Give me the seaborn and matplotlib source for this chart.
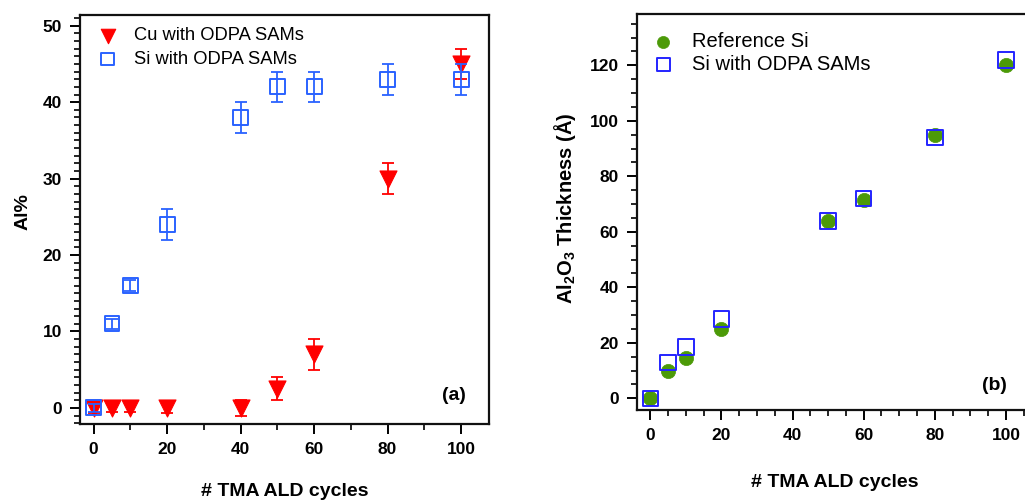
import matplotlib
matplotlib.use("Agg")
import matplotlib.pyplot as plt
import seaborn as sns
import numpy as np
import pandas as pd
from matplotlib.ticker import MultipleLocator

# ---- data (panel a) ----
cycles_a = [0, 5, 10, 20, 40, 50, 60, 80, 100]
cu_al = [0, 0, 0, 0, 0, 2.5, 7, 30, 45]
cu_err = [0.6, 0.5, 0.5, 0.6, 1, 1.5, 2, 2, 2]
si_al = [0, 11, 16, 24, 38, 42, 42, 43, 43]
si_err = [0.5, 0.7, 0.7, 2, 2, 2, 2, 2, 2]

# ---- data (panel b) ----
cycles_b = [0, 5, 10, 20, 50, 60, 80, 100]
ref_thk = [0, 10, 14.5, 25, 64, 71.5, 95, 120]
sam_thk = [0, 13, 18.5, 28.5, 64, 72, 94, 122]

sns.set_style("ticks")
plt.rcParams['font.family'] = ['Liberation Sans', 'DejaVu Sans']
plt.rcParams.update({
    "text.color": "black", "axes.labelcolor": "black",
    "xtick.color": "black", "ytick.color": "black",
    "mathtext.fontset": "custom",
    "mathtext.rm": "Liberation Sans",
    "mathtext.bf": "Liberation Sans:bold",
})

fig = plt.figure(figsize=(10.25, 5.01), dpi=100)
W, H = 1025, 501
ax1 = fig.add_axes([80 / W, 1 - 424 / H, 409 / W, 409 / H])
ax2 = fig.add_axes([637 / W, 1 - 410 / H, 396 / W, 396 / H])

red = "#ff0000"
blue_a = "#2a62ff"
blue_b = "#2424ff"
green = "#4c9a08"

# panel a
dfa = pd.DataFrame({"x": cycles_a, "cu": cu_al, "si": si_al})
ax1.errorbar(cycles_a, cu_al, yerr=cu_err, fmt="none", ecolor=red, elinewidth=1.3,
             capsize=4.5, capthick=1.3, zorder=2)
sns.scatterplot(data=dfa, x="x", y="cu", ax=ax1, marker="v", s=150, color=red,
                edgecolor=red, linewidth=0.8, label="Cu with ODPA SAMs", zorder=3)
ax1.errorbar(cycles_a, si_al, yerr=si_err, fmt="none", ecolor=blue_a, elinewidth=1.3,
             capsize=4.5, capthick=1.3, zorder=4)
sns.scatterplot(data=dfa, x="x", y="si", ax=ax1, marker="s", s=115, facecolor="none",
                edgecolor=blue_a, linewidth=1.4, label="Si with ODPA SAMs", zorder=5)

ax1.set_xlim(-3.7, 107.6)
ax1.set_ylim(-2.1, 51.4)
ax1.xaxis.set_major_locator(MultipleLocator(20))
ax1.xaxis.set_minor_locator(MultipleLocator(10))
ax1.yaxis.set_major_locator(MultipleLocator(10))
ax1.yaxis.set_minor_locator(MultipleLocator(1))
ax1.set_xlabel("# TMA ALD cycles", fontsize=14, fontweight="bold", labelpad=19)
ax1.set_ylabel("Al%", fontsize=14, fontweight="bold")
ax1.yaxis.set_label_coords(-0.118, 0.52)
ax1.text((454 - 80) / 409, (424 - 396) / 409, "(a)", transform=ax1.transAxes,
         ha="center", va="center", fontsize=14, fontweight="bold")

# panel b
dfb = pd.DataFrame({"x": cycles_b, "ref": ref_thk, "sam": sam_thk})
sns.scatterplot(data=dfb, x="x", y="ref", ax=ax2, marker="o", s=105, color=green,
                edgecolor=green, linewidth=0.5, label="Reference Si", zorder=3)
sns.scatterplot(data=dfb, x="x", y="sam", ax=ax2, marker="s", s=125, facecolor="none",
                edgecolor=blue_b, linewidth=1.4, label="Si with ODPA SAMs", zorder=4)
ax2.set_xlim(-3.75, 107.6)
ax2.set_ylim(-4.2, 138.5)
ax2.xaxis.set_major_locator(MultipleLocator(20))
ax2.xaxis.set_minor_locator(MultipleLocator(5))
ax2.yaxis.set_major_locator(MultipleLocator(20))
ax2.yaxis.set_minor_locator(MultipleLocator(5))
ax2.set_xlabel("# TMA ALD cycles", fontsize=14, fontweight="bold", labelpad=22)
ax2.set_ylabel("Al$_\\mathbf{2}$O$_\\mathbf{3}$ Thickness (Å)", fontsize=14.5,
               fontweight="bold")
ax2.yaxis.set_label_coords(-0.15, 0.51)
ax2.text((994 - 637) / 396, (410 - 385) / 396, "(b)", transform=ax2.transAxes,
         ha="center", va="center", fontsize=14, fontweight="bold")

for ax in (ax1, ax2):
    for s in ax.spines.values():
        s.set_linewidth(1.6)
        s.set_color("#111111")
    ax.tick_params(which="major", direction="out", length=7, width=1.4,
                   labelsize=12.5, top=False, right=False, pad=6)
    ax.tick_params(which="minor", direction="out", length=4, width=1.2,
                   top=False, right=False)
    for lab in ax.get_xticklabels() + ax.get_yticklabels():
        lab.set_fontweight("bold")
    ax.grid(False)

ax1.legend(loc="upper left", bbox_to_anchor=(0.0, 0.992), frameon=False,
           fontsize=13.2, handletextpad=0.45, labelspacing=0.35,
           borderaxespad=0.3, markerscale=0.85, borderpad=0.2)
ax2.legend(loc="upper left", bbox_to_anchor=(-0.01, 0.98), frameon=False,
           fontsize=14.5, handletextpad=0.45, labelspacing=0.2,
           borderaxespad=0.3, markerscale=0.85, borderpad=0.2)

fig.savefig("out.png", dpi=100)
